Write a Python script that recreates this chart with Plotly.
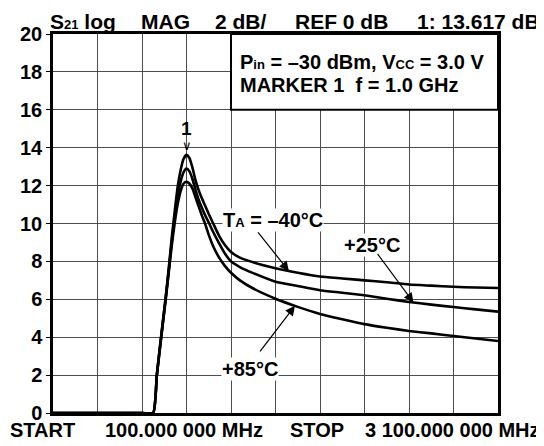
import numpy as np
import plotly.graph_objects as go

# ---------------- data ----------------
FREQ_MHZ = [100, 400, 700, 775, 800, 830, 860, 880, 900, 920, 940, 960, 980,
            1000, 1020, 1040, 1060, 1080, 1100, 1125, 1150, 1180, 1220, 1260,
            1300, 1360, 1450, 1600, 1750, 1900, 2050, 2200, 2350, 2500, 2650,
            2800, 2950, 3100]
S21_M40 = [0, 0, 0, 0, 2.0, 4.1, 6.1, 7.6, 9.2, 10.6, 11.9, 12.8, 13.4,
           13.62, 13.45, 12.95, 12.3, 11.8, 11.4, 10.95, 10.5, 10.0, 9.35, 8.85,
           8.5, 8.2, 7.95, 7.64, 7.4, 7.2, 7.1, 7.0, 6.9, 6.78, 6.72,
           6.66, 6.62, 6.6]
S21_P25 = [0, 0, 0, 0, 2.0, 4.1, 6.1, 7.5, 9.0, 10.3, 11.4, 12.2, 12.7,
           12.9, 12.75, 12.35, 11.8, 11.3, 10.9, 10.45, 10.05, 9.55, 8.95, 8.4,
           8.0, 7.7, 7.38, 6.93, 6.7, 6.48, 6.35, 6.21, 6.03, 5.86, 5.72,
           5.59, 5.47, 5.35]
S21_P85 = [0, 0, 0, 0, 2.0, 4.0, 6.0, 7.4, 8.8, 10.0, 11.0, 11.7, 12.1,
           12.2, 12.1, 11.85, 11.4, 10.95, 10.5, 10.0, 9.4, 8.8, 8.2, 7.75,
           7.4, 7.0, 6.57, 6.03, 5.6, 5.23, 4.95, 4.69, 4.5, 4.33, 4.2,
           4.06, 3.93, 3.8]
SERIES = [("-40", S21_M40), ("+25", S21_P25), ("+85", S21_P85)]

X_START, X_STOP, X_STEP = 100, 3100, 300
Y_TICKS = list(range(0, 21, 2))
MARKER_F = 1000
MARKER_DB = 13.617
BOX_X = [1300, 3100]
BOX_Y = [16, 20]
# label arrows: (series, tip frequency, tail offset px)
ARROWS = [(S21_M40, 1690, -32, -40), (S21_P25, 2530, -37, -50), (S21_P85, 1731, -36, 47)]

# ---------------- layout geometry ----------------
# the page body has an 8px default margin; positions below are in window pixels
OFF = 8
W, H = 544 - OFF, 446 - OFF
PL, PR, PT, PB = 48, 498, 34, 413          # plot frame in window pixels
L, R, T, B = PL - OFF, W - (PR - OFF), PT - OFF, H - (PB - OFF)
PW, PH = W - L - R, H - T - B


def px(x):
    return (x - OFF - L) / PW


def py(y):
    return (H - B - (y - OFF)) / PH


FONT = "Liberation Sans, Arial, Helvetica, sans-serif"
SUB = "<span style='font-size:13px'>{}</span>"

fig = go.Figure()
for name, ys in SERIES:
    fig.add_trace(go.Scatter(x=FREQ_MHZ, y=ys, mode="lines", name=name,
                             line=dict(color="black", width=2.6, shape="spline", smoothing=0.5),
                             hoverinfo="skip", showlegend=False))

grid = dict(showgrid=True, gridcolor="#4d4d4d", gridwidth=1.3, zeroline=False,
            showline=True, linecolor="black", linewidth=2.5, mirror=True)

fig.update_layout(
    width=W, height=H, margin=dict(l=L, r=R, t=T, b=B),
    paper_bgcolor="white", plot_bgcolor="white",
    font=dict(family=FONT, color="black"),
    xaxis=dict(range=[X_START, X_STOP], tick0=X_START, dtick=X_STEP,
               showticklabels=False, ticks="", **grid),
    yaxis=dict(range=[0, 20], tickvals=Y_TICKS, ticks="outside", ticklen=4,
               tickcolor="black", tickwidth=1.3,
               tickfont=dict(size=20, family=FONT, weight="bold", color="black"), **grid),
    showlegend=False,
)

fig.add_shape(type="rect", xref="x", yref="y", x0=BOX_X[0], x1=BOX_X[1], y0=BOX_Y[0], y1=BOX_Y[1],
              fillcolor="white", line=dict(color="black", width=2), layer="above")


def txt(text, x, y, xanchor="left", size=20, bg=None):
    fig.add_annotation(text=text, xref="paper", yref="paper", x=px(x), y=py(y),
                       xanchor=xanchor, yanchor="middle", showarrow=False,
                       font=dict(size=size, family=FONT, weight="bold", color="black"),
                       bgcolor=bg, borderpad=0)


# header
txt("S" + SUB.format("21") + " log", 44, 21, size=21)
txt("MAG", 136, 21, size=21)
txt("2 dB/", 211, 21, size=21)
txt("REF 0 dB", 292, 21, size=21)
txt("1: 13.617 dB", 541, 21, xanchor="right", size=21)
# footer
txt("START", 3, 430)
txt("100.000 000 MHz", 100, 430)
txt("STOP", 287, 430)
txt("3 100.000 000 MHz", 541, 430, xanchor="right")
# box text
txt("P" + SUB.format("in") + " = –30 dBm, V" + SUB.format("CC") + " = 3.0 V", 236, 62)
txt("MARKER 1\u00a0\u00a0f = 1.0 GHz", 236, 85)
# temperature labels
txt("T" + SUB.format("A") + " = –40°C", 270, 220, xanchor="center", bg="white")
txt("+25°C", 371, 245, xanchor="center", bg="white")
txt("+85°C", 247, 369, xanchor="center", bg="white")

for ys, f_tip, ax, ay in ARROWS:
    fig.add_annotation(x=f_tip, y=float(np.interp(f_tip, FREQ_MHZ, ys)), xref="x", yref="y",
                       text="", showarrow=True, ax=ax, ay=ay, axref="pixel", ayref="pixel",
                       arrowhead=2, arrowsize=1.6, arrowwidth=1.2, arrowcolor="black", standoff=0)

# marker 1
fig.add_annotation(x=MARKER_F, y=MARKER_DB, xref="x", yref="y", text="∨", showarrow=False,
                   yanchor="bottom", yshift=0,
                   font=dict(size=13, family="DejaVu Sans", color="black"))
fig.add_annotation(x=MARKER_F, y=MARKER_DB, xref="x", yref="y", text="1", showarrow=False,
                   yanchor="bottom", yshift=14,
                   font=dict(size=19, family=FONT, weight="bold", color="black"))

fig.write_html("out.html")
